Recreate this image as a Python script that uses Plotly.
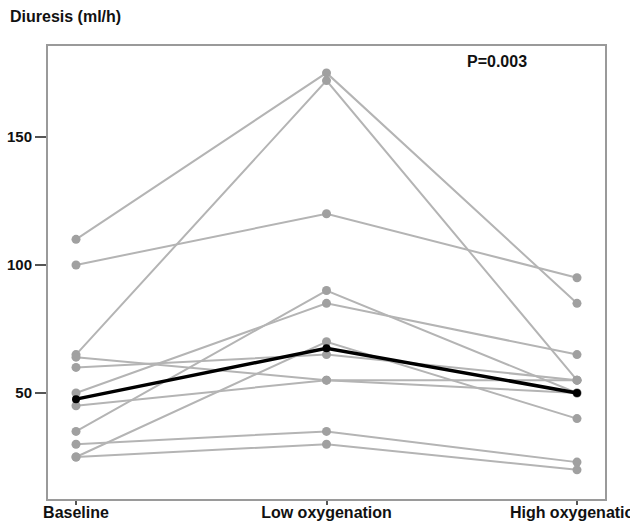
import plotly.graph_objects as go

categories = ["Baseline", "Low oxygenation", "High oxygenation"]
cat_pos = [0, 1, 2]

# Individual patients: values at Baseline, Low oxygenation, High oxygenation
patient_baseline = [110, 65, 100, 35, 50, 25, 60, 64, 45, 30, 25]
patient_low      = [175, 172, 120, 90, 85, 70, 65, 55, 55, 35, 30]
patient_high     = [85, 55, 95, 50, 65, 40, 55, 50, 55, 23, 20]

summary_values = [47.6, 67.5, 50]

y_ticks = [50, 100, 150]
p_text = "P=0.003"
y_title = "Diuresis (ml/h)"

FONT = "Liberation Sans, Arial, sans-serif"
fig = go.Figure()

for b, l, h in zip(patient_baseline, patient_low, patient_high):
    fig.add_trace(go.Scatter(
        x=cat_pos, y=[b, l, h], mode="lines+markers",
        line=dict(color="#b4b4b4", width=2),
        marker=dict(color="#a0a0a0", size=9),
        showlegend=False, hoverinfo="skip"))

fig.add_trace(go.Scatter(
    x=cat_pos, y=summary_values, mode="lines+markers",
    line=dict(color="#000000", width=3.5),
    marker=dict(color="#000000", size=8),
    showlegend=False))

fig.update_layout(
    width=630, height=521,
    margin=dict(l=48, r=25, t=46, b=22, autoexpand=False),
    paper_bgcolor="white", plot_bgcolor="white",
    font=dict(family=FONT, size=14, color="#111"),
    xaxis=dict(
        range=[-0.1118, 2.1118], tickvals=cat_pos, ticktext=categories,
        showgrid=False, zeroline=False, showline=True, mirror=True,
        linecolor="#9a9a9a", linewidth=2, ticks="outside", ticklen=4,
        tickcolor="#555", tickwidth=2, automargin=False,
        ticklabeloverflow="allow", ticklabelstandoff=-6,
        tickfont=dict(family=FONT, size=16, color="#111", weight="bold")),
    yaxis=dict(
        range=[8.6, 185.5], tickvals=y_ticks,
        showgrid=False, zeroline=False, showline=True, mirror=True,
        linecolor="#9a9a9a", linewidth=2, ticks="outside", ticklen=11,
        tickcolor="#555", tickwidth=2, automargin=False,
        tickfont=dict(family=FONT, size=15, color="#111", weight="bold")),
    annotations=[
        dict(text=y_title, xref="paper", yref="paper", x=-48/557, y=1 + 29/453,
             xanchor="left", yanchor="middle", showarrow=False,
             xshift=8,
             font=dict(family=FONT, size=16, color="#111", weight="bold")),
        dict(text=p_text, xref="paper", yref="paper", x=(497-48)/557, y=1 - 16/453,
             xanchor="center", yanchor="middle", showarrow=False,
             font=dict(family=FONT, size=16, color="#111", weight="bold")),
    ],
)

fig.write_html(
    "out.html",
    config={"displayModeBar": False},
    post_script="document.body.style.margin='0';document.body.style.overflow='hidden';",
)
